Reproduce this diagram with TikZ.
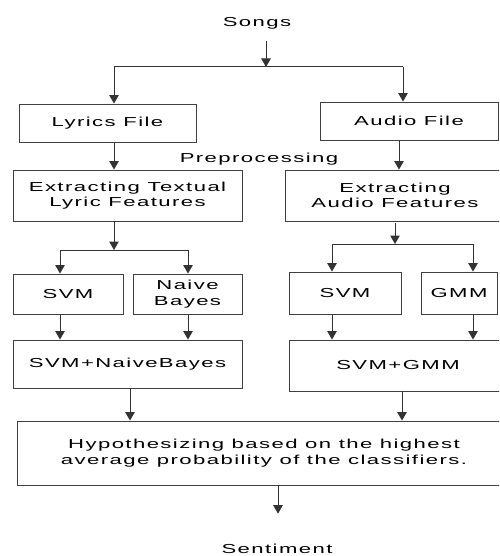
\documentclass[tikz,border=0pt]{standalone}
\usepackage{fontspec}
\setmainfont{Liberation Sans}[FakeStretch=1.7, LetterSpace=11]
\usetikzlibrary{arrows.meta}
\begin{document}
\begin{tikzpicture}[x=1pt, y=-1pt,
  every node/.style={font=\fontsize{13}{15.5}\selectfont, text=black},
  box/.style={draw=black!75, line width=0.9pt, inner sep=0pt, align=center},
  link/.style={draw=black!80, line width=1pt},
  arr/.style={link, -{Triangle[width=9.5pt,length=8.5pt]}}]
\clip (0,0) rectangle (499,556);
\fill[white] (0,0) rectangle (499,556);

% labels outside boxes
\node (songs) at (257,23) {Songs};
\node (prep) at (259,159) {Preprocessing};
\node (sent) at (277,549) {Sentiment};

% boxes
\node[box, minimum width=177pt, minimum height=38pt] (lyrics) at (107.5,123) {Lyrics File};
\node[box, minimum width=178pt, minimum height=38pt] (audio) at (409,121) {Audio File};
\node[box, minimum width=229pt, minimum height=51pt] (extt) at (127.5,195.5) {Extracting Textual\\Lyric Features};
\node[box, minimum width=220pt, minimum height=51pt] (exta) at (395,195.5) {Extracting\\Audio Features};
\node[box, minimum width=110pt, minimum height=40pt] (svml) at (68,294) {SVM};
\node[box, minimum width=109pt, minimum height=40pt] (nb) at (187.5,294) {Naive\\Bayes};
\node[box, minimum width=112pt, minimum height=42pt] (svmr) at (345,293) {SVM};
\node[box, minimum width=76pt, minimum height=42pt] (gmm) at (459,293) {GMM};
\node[box, minimum width=229pt, minimum height=48pt] (svmnb) at (127.5,364) {SVM+NaiveBayes};
\node[box, minimum width=218pt, minimum height=51pt] (svmgmm) at (398,365.5) {SVM+GMM};
\node[box, minimum width=494pt, minimum height=64pt] (hyp) at (264,453) {Hypothesizing based on the highest\\average probability of the classifiers.};

% branching points
\coordinate (top) at (266,67);
\coordinate (topL) at (114,67);
\coordinate (topR) at (403,67);
\coordinate (colA) at (399,0);
\coordinate (midT) at (114,250);
\coordinate (midTL) at (60,250);
\coordinate (midTR) at (188,250);
\coordinate (midA) at (395,244);
\coordinate (midAL) at (332,244);
\coordinate (midAR) at (473,244);
\coordinate (hypL) at (130,0);
\coordinate (hypR) at (402,0);
\coordinate (outX) at (278,0);

% songs split
\draw[arr, shorten <=9pt] (songs.south -| top) -- (top);
\draw[link] (topL) -- (topR);
\draw[arr] (topL) -- (topL |- lyrics.north);
\draw[arr] (topR) -- (topR |- audio.north);

% preprocessing
\draw[arr] (lyrics.south -| topL) -- (topL |- extt.north);
\draw[arr] (audio.south -| colA) -- (colA |- exta.north);

% textual classifiers
\draw[arr] (extt.south -| midT) -- (midT);
\draw[link] (midTL) -- (midTR);
\draw[arr] (midTL) -- (midTL |- svml.north);
\draw[arr] (midTR) -- (midTR |- nb.north);
\draw[arr] (svml.south -| midTL) -- (midTL |- svmnb.north);
\draw[arr] (nb.south -| midTR) -- (midTR |- svmnb.north);

% audio classifiers
\draw[arr, shorten <=2pt] (exta.south -| midA) -- (midA);
\draw[link] (midAL) -- (midAR);
\draw[arr] (midAL) -- (midAL |- svmr.north);
\draw[arr] (midAR) -- (midAR |- gmm.north);
\draw[arr] (svmr.south -| midAL) -- (midAL |- svmgmm.north);
\draw[arr] (gmm.south -| midAR) -- (midAR |- svmgmm.north);

% fusion
\draw[arr] (svmnb.south -| hypL) -- (hypL |- hyp.north);
\draw[arr] (svmgmm.south -| hypR) -- (hypR |- hyp.north);
\draw[arr, shorten >=27pt] (hyp.south -| outX) -- (outX |- sent.north);
\end{tikzpicture}
\end{document}
